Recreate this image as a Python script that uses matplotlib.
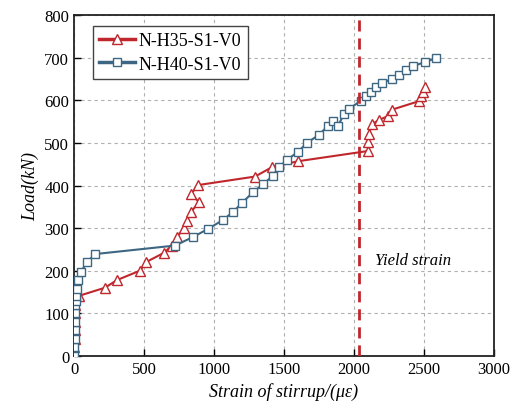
import matplotlib
matplotlib.use("Agg")
import matplotlib.pyplot as plt

plt.rcParams['font.family'] = ['Liberation Serif', 'DejaVu Serif']
plt.rcParams['mathtext.fontset'] = 'stix'

h35_x = [0, 3, 5, 5, 8, 8, 10, 36, 221, 307, 471, 514, 643, 698, 735, 786, 807, 836, 893, 836, 886,
         1293, 1414, 1600, 2100, 2100, 2107, 2129, 2179, 2243, 2271, 2464, 2479, 2493, 2507]
h35_y = [0, 20, 40, 60, 80, 100, 120, 141, 160, 178, 200, 220, 242, 259, 279, 300, 317, 338, 361, 380, 401,
         421, 443, 457, 481, 502, 521, 544, 554, 563, 578, 598, 610, 619, 631]

h40_x = [0, 3, 5, 5, 8, 8, 10, 12, 15, 21, 29, 50, 93, 150, 721, 850, 957, 1064, 1136, 1200, 1281, 1350,
         1421, 1464, 1521, 1600, 1664, 1750, 1814, 1850, 1886, 1929, 1964, 2050, 2086, 2121, 2157, 2200,
         2271, 2321, 2371, 2421, 2507, 2586]
h40_y = [0, 20, 40, 60, 80, 100, 120, 130, 140, 157, 178, 198, 220, 239, 259, 279, 298, 319, 338, 359, 385, 403,
         423, 443, 460, 479, 500, 519, 540, 552, 540, 568, 580, 599, 610, 620, 631, 641,
         650, 659, 671, 680, 690, 699]

yield_strain = 2035
labels = ["N-H35-S1-V0", "N-H40-S1-V0"]
red = "#c0272d"
blue = "#3d6682"

fig = plt.figure(figsize=(5.14, 4.14), dpi=100)
ax = fig.add_axes([0.144, 0.138, 0.817, 0.823])

ax.plot(h35_x, h35_y, color=red, lw=1.5, marker='^', ms=6.5, mfc='white', mec=red, mew=1.0,
        label=labels[0], zorder=3)
ax.plot(h40_x, h40_y, color=blue, lw=1.5, marker='s', ms=5.5, mfc='white', mec=blue, mew=1.0,
        label=labels[1], zorder=3)
ax.axvline(yield_strain, color=red, lw=2, ls=(0, (4, 2.5)), zorder=4)
ax.text(2150, 225, "Yield strain", fontsize=12, style='italic', va='center', ha='left')

ax.set_xlim(0, 3000)
ax.set_ylim(0, 800)
ax.set_xticks(range(0, 3001, 500))
ax.set_yticks(range(0, 801, 100))
ax.grid(True, color='#b0b0b0', ls=(0, (3, 3)), lw=0.8)
ax.tick_params(direction='in', length=5, width=1, labelsize=12)
for s in ax.spines.values():
    s.set_linewidth(1.3)
    s.set_color('#222222')

ax.set_xlabel("Strain of stirrup/(\u03bc\u03b5)", fontsize=13, style='italic', labelpad=4)
ax.set_ylabel("Load(kN)", fontsize=13, style='italic', labelpad=4)

leg = ax.legend(loc='upper left', bbox_to_anchor=(0.045, 0.968), fontsize=13, frameon=True,
                fancybox=False, edgecolor='#444444', framealpha=1, handlelength=2.0,
                borderpad=0.35, labelspacing=0.35, handletextpad=0.2, borderaxespad=0)
leg.get_frame().set_linewidth(1.0)
for line in leg.get_lines():
    line.set_linewidth(2.5)

fig.savefig("out.png", dpi=100)
